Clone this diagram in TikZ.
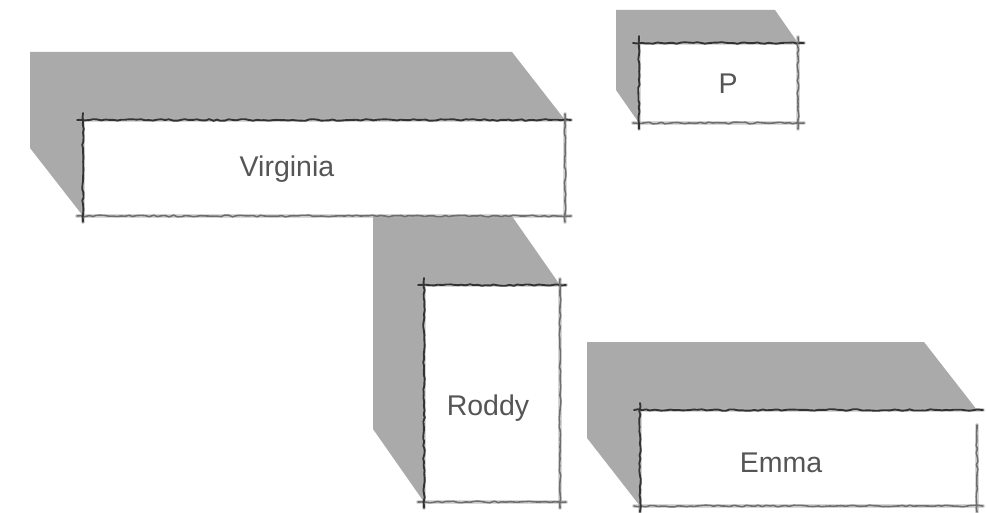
\documentclass[tikz,border=0pt]{standalone}
\usepackage{fontspec}
\setmainfont{Liberation Sans}
\usetikzlibrary{decorations.pathmorphing}
\definecolor{shadowgray}{HTML}{AAAAAA}
\definecolor{textgray}{HTML}{555555}
\definecolor{edgedark}{HTML}{333333}
\definecolor{edgelight}{HTML}{6E6E6E}
\tikzset{
  boxnode/.style={rectangle, fill=white, inner sep=0pt, outer sep=0pt},
  shadowfill/.style={fill=shadowgray},
  sketchdark/.style={draw=edgedark, line width=1.9pt, line cap=round,
    decorate, decoration={random steps, segment length=4pt, amplitude=0.8pt}},
  sketchlight/.style={draw=edgelight, line width=1.6pt, line cap=round,
    decorate, decoration={random steps, segment length=4pt, amplitude=0.8pt}},
  halo/.style={draw=black!30, line width=4pt, line cap=round, opacity=0.5},
  lbl/.style={text=textgray, font=\fontsize{28.5}{32}\selectfont, anchor=base, inner sep=0pt}
}
\begin{document}
\begin{tikzpicture}[x=1pt, y=-1pt]
\pgfmathsetseed{7}
\useasboundingbox (0,0) rectangle (986,513);
\fill[white] (0,0) rectangle (986,513);

% box nodes (anchors for shadows and borders)
\path
  node[boxnode, fill=none, minimum width=482pt, minimum height=96pt] (virginia) at (324,168) {}
  node[boxnode, fill=none, minimum width=159pt, minimum height=80pt] (p) at (718.5,83) {}
  node[boxnode, fill=none, minimum width=136pt, minimum height=217pt] (roddy) at (492,393.5) {}
  node[boxnode, fill=none, minimum width=337pt, minimum height=96pt] (emma) at (808.5,458) {};

% shadows
\fill[shadowfill] ([shift={(-51,-73)}]roddy.north west) -- ([shift={(-51,-73)}]roddy.north east)
  -- (roddy.north east) -- (roddy.south west) -- ([shift={(-51,-73)}]roddy.south west) -- cycle;
\fill[shadowfill] ([shift={(-53,-68)}]virginia.north west) -- ([shift={(-53,-68)}]virginia.north east)
  -- (virginia.north east) -- (virginia.south west) -- ([shift={(-53,-68)}]virginia.south west) -- cycle;
\fill[shadowfill] ([shift={(-23,-33)}]p.north west) -- ([shift={(-23,-33)}]p.north east)
  -- (p.north east) -- (p.south west) -- ([shift={(-23,-33)}]p.south west) -- cycle;
\fill[shadowfill] ([shift={(-53,-68)}]emma.north west) -- ([shift={(-53,-68)}]emma.north east)
  -- (emma.north east) -- (emma.south west) -- ([shift={(-53,-68)}]emma.south west) -- cycle;

% white faces
\foreach \b in {virginia,p,roddy,emma}{
  \fill[white] (\b.north west) rectangle (\b.south east);
}

% sketchy borders
\foreach \b in {virginia,p,roddy}{
  \draw[halo] ([shift={(-6,0)}]\b.north west) -- ([shift={(6,0)}]\b.north east);
  \draw[halo] ([shift={(-6,0)}]\b.south west) -- ([shift={(6,0)}]\b.south east);
  \draw[halo] ([shift={(0,-7)}]\b.north west) -- ([shift={(0,6)}]\b.south west);
  \draw[halo] ([shift={(0,-6)}]\b.north east) -- ([shift={(0,6)}]\b.south east);
  \draw[sketchdark] ([shift={(-6,0)}]\b.north west) -- ([shift={(6,0)}]\b.north east);
  \draw[sketchlight] ([shift={(-6,0)}]\b.south west) -- ([shift={(6,0)}]\b.south east);
  \draw[sketchdark] ([shift={(0,-7)}]\b.north west) -- ([shift={(0,6)}]\b.south west);
  \draw[sketchlight] ([shift={(0,-6)}]\b.north east) -- ([shift={(0,6)}]\b.south east);
}
% Emma (right edge starts lower)
\draw[halo] ([shift={(-6,0)}]emma.north west) -- ([shift={(6,0)}]emma.north east);
\draw[halo] ([shift={(-6,0)}]emma.south west) -- ([shift={(6,0)}]emma.south east);
\draw[halo] ([shift={(0,-7)}]emma.north west) -- ([shift={(0,6)}]emma.south west);
\draw[halo] ([shift={(0,15)}]emma.north east) -- ([shift={(0,6)}]emma.south east);
\draw[sketchdark] ([shift={(-6,0)}]emma.north west) -- ([shift={(6,0)}]emma.north east);
\draw[sketchlight] ([shift={(-6,0)}]emma.south west) -- ([shift={(6,0)}]emma.south east);
\draw[sketchdark] ([shift={(0,-7)}]emma.north west) -- ([shift={(0,6)}]emma.south west);
\draw[sketchlight] ([shift={(0,15)}]emma.north east) -- ([shift={(0,6)}]emma.south east);

% labels
\node[lbl] (virginia-label) at (287,177) {Virginia};
\node[lbl] (p-label) at (728,94) {P};
\node[lbl] (roddy-label) at (488,415) {Roddy};
\node[lbl] (emma-label) at (781,472) {Emma};
\end{tikzpicture}
\end{document}
